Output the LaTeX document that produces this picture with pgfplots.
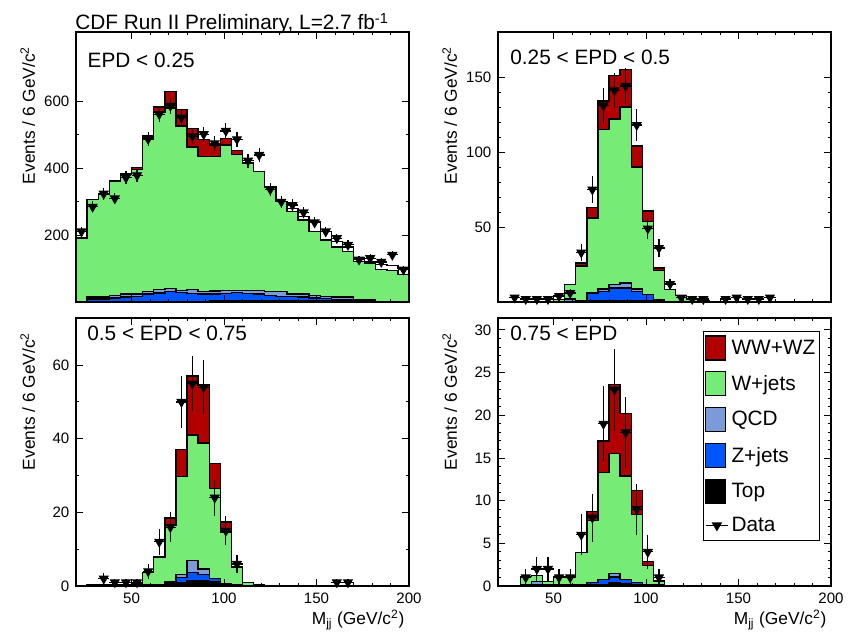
\documentclass[border=0pt]{standalone}
\usepackage{fontspec}
\setmainfont{Liberation Sans}
\usepackage{pgfplots}
\usepackage{pgfplotstable}
\pgfplotsset{compat=1.18}

\definecolor{wwred}{RGB}{178,0,0}
\definecolor{wjgreen}{RGB}{118,236,118}
\definecolor{qcdblue}{RGB}{122,154,216}
\definecolor{zblue}{RGB}{0,85,255}

% stacked levels per 6 GeV bin (low edge): top, +Z, +QCD, +W, +WW/WZ, outline
\pgfplotstableread{
x   top z   qcd w    tot  out
20  0   0   0   191  191  191
26  2   9   15  307  307  307
32  2   9   15  321  321  321
38  2   12  20  362  362  362
44  2   15  24  383  383  383
50  2   17  24  397  403  403
56  2   24  32  491  499  499
62  2   27  38  568  584  584
68  2   32  41  581  630  630
74  2   28  35  527  576  576
80  2   26  38  464  519  519
86  2   24  32  435  487  487
92  3   24  33  435  470  470
98  4   26  35  470  489  489
104 4   28  35  441  453  453
110 4   26  35  416  416  416
116 4   24  35  390  390  390
122 4   20  32  344  344  344
128 4   17  32  300  300  300
134 4   17  24  270  270  280
140 4   15  24  245  245  255
146 4   12  20  211  211  241
152 4   11  17  186  186  211
158 3   8   15  164  164  181
164 2   6   15  151  151  164
170 2   5   8   122  122  132
176 1   5   8   117  117  122
182 0   0   0   97   97   112
188 0   0   0   94   94   110
194 0   0   0   82   82   100
200 0   0   0   82   82   100
}\histA
\pgfplotstableread{
x   y    e
23  211  14.5
29  285  16.9
35  324  18.0
41  310  17.6
47  372  19.3
53  379  19.5
59  488  22.1
65  562  23.7
71  587  24.2
77  552  23.5
83  496  22.3
89  502  22.4
95  475  21.8
101 512  22.6
107 487  22.1
113 423  20.6
119 440  21.0
125 337  18.4
131 300  17.3
137 290  17.0
143 268  16.4
149 238  15.4
155 211  14.5
161 191  13.8
167 171  13.1
173 127  11.3
179 131  11.4
185 120  11.0
191 141  11.9
197 97   9.8
}\dataA

\pgfplotstableread{
x   top z   qcd  w    tot
20  0   0   0    0    0
26  0   0   0    0    0
32  0   0   0    0    0
38  0   0   0    0    0
44  0   0   0    0    0
50  0   0   0    1.5  1.5
56  0   0.5 2    11.5 11.5
62  0.5 1   1    24   26
68  1   6   6    56   63
74  1   7.1 8.6  115  134
80  1   9.3 11.5 122  151
86  1   9.3 12.6 130  155
92  1   7.1 8.6  90   104
98  1   4.9 4.9  53.5 60.6
104 1.5 1.5 1.5  21   22.6
110 0.3 0.3 0.3  8.3  8.3
116 0   0   0    4.4  4.4
122 0   0   0    2    2
128 0   0   0    1    1
134 0   0   0    0    0
200 0   0   0    0    0
}\histB
\pgfplotstableread{
x   y    e
29  3    1.7
35  2    1.4
41  2    1.4
47  2    1.4
53  4    2.0
59  6    2.4
65  33   5.7
71  75   8.7
77  131  11.4
83  141  11.9
89  144  12.0
95  118  10.9
101 49   7.0
107 36   6.0
113 12   3.5
119 3    1.7
125 2    1.4
131 2    1.4
143 2    1.4
149 3    1.7
155 2    1.4
161 2    1.4
167 3    1.7
}\dataB

\pgfplotstableread{
x   top z   qcd w    tot
20  0   0   0   0    0
26  0.3 0.3 0.3 0.4  0.4
32  0.3 0.3 0.3 0.4  0.4
38  0.3 0.3 0.3 0.4  0.4
44  0.3 0.3 0.3 0.4  0.4
50  0.3 0.3 0.3 0.6  0.6
56  0.3 0.3 0.3 3.6  3.6
62  0.3 0.3 0.3 7.9  7.9
68  0.8 1.2 1.2 16.5 18.5
74  1.0 2.3 3.1 29.7 37.1
80  1.5 3.6 6.9 41   57
86  1.5 3.2 4.6 38.9 54.6
92  1.2 2.0 2.0 26.5 33.3
98  0.6 0.6 0.6 14.7 17.4
104 0.3 0.3 0.3 5.2  5.2
110 0.2 0.2 0.2 0.9  0.9
116 0   0   0   0.4  0.4
122 0   0   0   0    0
200 0   0   0   0    0
}\histC
\pgfplotstableread{
x   y    e
35  2    1.4
41  1    1.0
47  1    1.0
53  1    1.0
59  4    2.0
65  12   3.5
71  16   4.0
77  50   7.1
83  55   7.4
89  54   7.3
95  24   4.9
101 15   3.9
107 6    2.4
161 1    1.0
167 1    1.0
}\dataC

\pgfplotstableread{
x   top z    qcd  w    tot
20  0   0    0    0    0
26  0   0    0    0    0
32  0.1 0.1  0.1  1.1  1.1
38  0.1 0.1  0.55 1.25 1.25
44  0.1 0.1  0.1  0.55 0.55
50  0.1 0.1  0.1  1.06 1.06
56  0.1 0.1  0.1  1.06 1.06
62  0.1 0.1  0.1  3.9  3.9
68  0.1 0.4  0.4  7.7  8.7
74  0.2 0.75 0.75 13.3 17.0
80  0.4 1.06 1.5  15.5 23.6
86  0.3 0.75 0.75 12.9 20.2
92  0.1 0.4  0.4  8.4  11.2
98  0.1 0.1  0.1  2.4  2.9
104 0.1 0.1  0.1  0.6  0.6
110 0   0    0    0    0
200 0   0    0    0    0
}\histD
\pgfplotstableread{
x   y    e
35  1    1.0
41  2    1.4
47  2    1.4
53  1    1.0
59  1    1.0
65  6    2.4
71  8    2.8
77  19   4.4
83  23   4.8
89  18   4.2
95  9    3.0
101 4    2.0
107 1    1.0
}\dataD

\pgfplotsset{
  panel/.style={
    scale only axis, width=249.75pt,
    xmin=20, xmax=200,
    axis on top,
    axis line style={line width=1.5pt},
    tick align=inside,
    major tick length=5pt, minor tick length=2.5pt,
    every tick/.style={black, line width=0.7pt},
    tick label style={font=\fontsize{11.3}{13}\selectfont},
    yticklabel style={xshift=-1.5pt},
    xticklabel style={yshift=-1.5pt},
    xtick={50,100,150,200}, minor x tick num=4,
    /pgf/number format/assume math mode=true,
    ylabel={Events / 6 GeV/c\textsuperscript{2}},
    every axis y label/.style={at={(axis description cs:-0.145,0.963)},
      rotate=90, anchor=east, font=\fontsize{13}{15}\selectfont},
    every axis x label/.style={at={(axis description cs:1,0)},
      anchor=base east, yshift=-29pt, font=\fontsize{13}{15}\selectfont},
  },
  hist/.style={const plot mark left, draw=black, line width=1.05pt, fill=#1, forget plot},
  data/.style={black, only marks, mark=triangle*, mark size=3.6pt,
    mark options={rotate=180, fill=black}, line width=0.9pt, forget plot,
    error bars/.cd, x dir=both, x fixed=3, y dir=both, y explicit,
    error mark=none, error bar style={line width=0.9pt}},
}
\tikzset{lab/.style={anchor=base west, font=\fontsize{15.6}{18}\selectfont}}

\begin{document}
\begin{tikzpicture}

% top left
\begin{axis}[panel, at={(57pt,-226.5pt)}, anchor=south west, height=202.5pt,
  ymin=0, ymax=808, ytick={200,400,600}, minor y tick num=1, xticklabels={}]
\addplot[hist=white] table[x=x,y=out] {\histA} \closedcycle;
\addplot[hist=wwred] table[x=x,y=tot] {\histA} \closedcycle;
\addplot[hist=wjgreen] table[x=x,y=w] {\histA} \closedcycle;
\addplot[hist=qcdblue] table[x=x,y=qcd] {\histA} \closedcycle;
\addplot[hist=zblue] table[x=x,y=z] {\histA} \closedcycle;
\addplot[hist=black] table[x=x,y=top] {\histA} \closedcycle;
\addplot[data] table[x=x,y=y,y error=e] {\dataA};
\node[lab] at (rel axis cs:0.021,0.87) {EPD < 0.25};
\end{axis}

% top right
\begin{axis}[panel, at={(373.5pt,-226.5pt)}, anchor=south west, height=202.5pt,
  ymin=0, ymax=180, ytick={50,100,150}, minor y tick num=4, xticklabels={}]
\addplot[hist=wwred] table[x=x,y=tot] {\histB} \closedcycle;
\addplot[hist=wjgreen] table[x=x,y=w] {\histB} \closedcycle;
\addplot[hist=qcdblue] table[x=x,y=qcd] {\histB} \closedcycle;
\addplot[hist=zblue] table[x=x,y=z] {\histB} \closedcycle;
\addplot[hist=black] table[x=x,y=top] {\histB} \closedcycle;
\addplot[data] table[x=x,y=y,y error=e] {\dataB};
\node[lab] at (rel axis cs:0.023,0.878) {0.25 < EPD < 0.5};
\end{axis}

% bottom left
\begin{axis}[panel, at={(57pt,-439.5pt)}, anchor=south west, height=201pt,
  ymin=0, ymax=72.8, ytick={0,20,40,60}, minor y tick num=1,
  xlabel={M\textsubscript{jj} (GeV/c\textsuperscript{2})}]
\addplot[hist=wwred] table[x=x,y=tot] {\histC} \closedcycle;
\addplot[hist=wjgreen] table[x=x,y=w] {\histC} \closedcycle;
\addplot[hist=qcdblue] table[x=x,y=qcd] {\histC} \closedcycle;
\addplot[hist=zblue] table[x=x,y=z] {\histC} \closedcycle;
\addplot[hist=black] table[x=x,y=top] {\histC} \closedcycle;
\addplot[data] table[x=x,y=y,y error=e] {\dataC};
\node[lab] at (rel axis cs:0.02,0.915) {0.5 < EPD < 0.75};
\end{axis}

% bottom right
\begin{axis}[panel, at={(373.5pt,-439.5pt)}, anchor=south west, height=201pt,
  ymin=0, ymax=31.4, ytick={0,5,10,15,20,25,30}, minor y tick num=4,
  xlabel={M\textsubscript{jj} (GeV/c\textsuperscript{2})},
  legend cell align=left,
  legend style={at={(rel axis cs:0.967,0.953)}, anchor=north east,
    draw=black, line width=1.1pt, fill=white,
    font=\fontsize{15.6}{18}\selectfont, row sep=8pt,
    inner xsep=1pt, inner ysep=3pt}]
\addplot[hist=wwred] table[x=x,y=tot] {\histD} \closedcycle;
\addplot[hist=wjgreen] table[x=x,y=w] {\histD} \closedcycle;
\addplot[hist=qcdblue] table[x=x,y=qcd] {\histD} \closedcycle;
\addplot[hist=zblue] table[x=x,y=z] {\histD} \closedcycle;
\addplot[hist=black] table[x=x,y=top] {\histD} \closedcycle;
\addplot[data] table[x=x,y=y,y error=e] {\dataD};
\node[lab] at (rel axis cs:0.023,0.915) {0.75 < EPD};
\addlegendimage{legend image code/.code={\draw[fill=wwred,line width=0.9pt] (0pt,-9pt) rectangle (15pt,9pt);}}
\addlegendentry{WW+WZ}
\addlegendimage{legend image code/.code={\draw[fill=wjgreen,line width=0.9pt] (0pt,-9pt) rectangle (15pt,9pt);}}
\addlegendentry{W+jets}
\addlegendimage{legend image code/.code={\draw[fill=qcdblue,line width=0.9pt] (0pt,-9pt) rectangle (15pt,9pt);}}
\addlegendentry{QCD}
\addlegendimage{legend image code/.code={\draw[fill=zblue,line width=0.9pt] (0pt,-9pt) rectangle (15pt,9pt);}}
\addlegendentry{Z+jets}
\addlegendimage{legend image code/.code={\draw[fill=black,line width=0.9pt] (0pt,-9pt) rectangle (15pt,9pt);}}
\addlegendentry{Top}
\addlegendimage{black, line width=0.9pt, mark=triangle*, mark size=3.6pt, mark options={rotate=180, fill=black}}
\addlegendentry{Data}
\end{axis}

\node[anchor=base west, font=\fontsize{15.6}{18}\selectfont] at (53pt,-22.5pt)
  {CDF Run II Preliminary, L=2.7 fb\textsuperscript{-1}};

\pgfresetboundingbox
\path[use as bounding box] (0pt,0pt) rectangle (636pt,-473.25pt);
\end{tikzpicture}
\end{document}
